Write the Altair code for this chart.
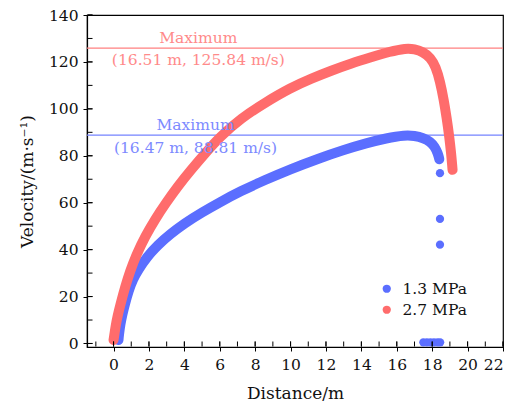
import altair as alt
import pandas as pd

# ---- data ----
series_names = ["1.3 MPa", "2.7 MPa"]
series_colors = ["#5B6EFF", "#FF6C6C"]

blue_x = [0.28, 0.29, 0.31, 0.38, 0.5, 0.65, 0.85, 1.1, 1.4, 1.9, 2.5, 3.2, 4.0, 5.0,
          6.0, 7.2, 8.5, 10.0, 11.5, 13.0, 14.3, 15.4, 16.47, 17.0, 17.5, 17.9,
          18.15, 18.32, 18.39, 18.4]
blue_v = [1.5, 2.5, 4.0, 8.0, 12.5, 17.0, 22.5, 27.5, 31.5, 37.0, 42.0, 46.6, 51.2, 55.9,
          60.2, 65.0, 69.5, 74.3, 78.6, 82.5, 85.4, 87.5, 88.81, 88.5, 87.6, 86.0,
          83.8, 81.0, 79.0, 78.5]

red_x = [0.0, 0.01, 0.05, 0.12, 0.22, 0.4, 0.65, 0.94, 1.3, 1.79, 2.35, 2.96, 3.65, 4.38,
         5.2, 6.0, 7.2, 8.5, 10.0, 11.2, 12.3, 13.4, 14.5, 15.6, 16.51, 17.0, 17.5,
         17.9, 18.2, 18.45, 18.65, 18.82, 18.96, 19.07, 19.14, 19.15]
red_v = [1.5, 2.0, 4.0, 7.5, 11.5, 17.0, 24.0, 31.0, 38.0, 45.7, 53.0, 59.9, 67.2, 74.0,
         81.3, 88.0, 96.0, 102.4, 109.0, 113.0, 116.3, 119.3, 121.9, 124.4, 125.84,
         125.5, 124.2, 121.8, 118.0, 111.5, 104.0, 96.0, 88.5, 81.0, 75.0, 74.0]

# isolated 1.3 MPa samples after the projectile leaves the curve
blue_pts_x = [18.44, 18.44, 18.44, 17.5, 17.7, 17.9, 18.1, 18.3, 18.45]
blue_pts_v = [72.6, 53.1, 42.1, 0.5, 0.5, 0.5, 0.5, 0.5, 0.5]

max_v = [88.81, 125.84]
max_labels = ["(16.47 m, 88.81 m/s)", "(16.51 m, 125.84 m/s)"]

x_major = list(range(0, 23, 2))
x_minor = list(range(-1, 23, 1))
y_major = list(range(0, 141, 20))
y_minor = list(range(0, 141, 10))

FONT = "DejaVu Serif"
W, H = 416, 332

lines_df = pd.DataFrame({
    "x": blue_x + red_x,
    "v": blue_v + red_v,
    "s": [series_names[0]] * len(blue_x) + [series_names[1]] * len(red_x),
    "o": list(range(len(blue_x))) + list(range(len(red_x))),
})
pts_df = pd.DataFrame({"x": blue_pts_x, "v": blue_pts_v, "s": series_names[0]})
max_df = pd.DataFrame({"v": max_v, "s": series_names})

xs = alt.Scale(domain=[-1.5, 22], nice=False, zero=False)
ys = alt.Scale(domain=[-1.5, 140], nice=False, zero=False)
cs = alt.Scale(domain=series_names, range=series_colors)

XA = alt.Axis(orient="bottom", values=x_major, ticks=True, tickSize=4,
              tickColor="#000", tickWidth=1, domain=True, domainColor="#000",
              domainWidth=1.2, grid=False, labelPadding=6, labelFont=FONT,
              labelFontSize=15.5, labelColor="#111", title="Distance/m",
              titleFont=FONT, titleFontSize=17, titleFontWeight="normal",
              titleColor="#111", titlePadding=13)
YA = alt.Axis(orient="left", values=y_major, ticks=True, tickSize=4,
              tickColor="#000", tickWidth=1, domain=True, domainColor="#000",
              domainWidth=1.2, grid=False, labelPadding=5, labelFont=FONT,
              labelFontSize=15.5, labelColor="#111", title="Velocity/(m·s⁻¹)",
              titleFont=FONT, titleFontSize=17, titleFontWeight="normal",
              titleColor="#111", titlePadding=12)

tick_x_df = pd.DataFrame({"t": x_major + x_minor,
                          "len": [5] * len(x_major) + [2.5] * len(x_minor)})
tick_y_df = pd.DataFrame({"t": y_major + y_minor,
                          "len": [5] * len(y_major) + [2.5] * len(y_minor)})

# inward ticks drawn with the axis scales (layered on top of the curves)
xticks = alt.Chart(tick_x_df).mark_rule(color="#000", strokeWidth=1).encode(
    x=alt.X("t:Q", scale=xs, axis=XA),
    y=alt.value(H - 0.5),
    y2=alt.value(H - 5.5),
)
yticks = alt.Chart(tick_y_df).mark_rule(color="#000", strokeWidth=1).encode(
    y=alt.Y("t:Q", scale=ys, axis=YA),
    x=alt.value(0.5),
    x2=alt.value(5.5),
)

lines = alt.Chart(lines_df).mark_line(
    strokeWidth=10, strokeCap="round", strokeJoin="round", interpolate="basis"
).encode(
    x=alt.X("x:Q", scale=xs, axis=XA),
    y=alt.Y("v:Q", scale=ys, axis=YA),
    color=alt.Color("s:N", scale=cs, legend=None),
    order="o:O",
    detail="s:N",
)

points = alt.Chart(pts_df).mark_circle(size=68, opacity=1).encode(
    x=alt.X("x:Q", scale=xs, axis=XA),
    y=alt.Y("v:Q", scale=ys, axis=YA),
    color=alt.Color("s:N", scale=cs, legend=alt.Legend(
        title=None, orient="none", legendX=292, legendY=266, symbolType="circle",
        symbolSize=68, symbolStrokeWidth=0, labelFont=FONT, labelFontSize=15.5,
        labelColor="#111", labelOffset=8, rowPadding=4, padding=0)),
)

rules = alt.Chart(max_df).mark_rule(strokeWidth=1.2).encode(
    y=alt.Y("v:Q", scale=ys, axis=YA),
    color=alt.Color("s:N", scale=alt.Scale(domain=series_names,
                                           range=["#7583FF", "#FF8080"]), legend=None),
)

ann_df = pd.DataFrame({
    "x": [4.63, 4.63, 4.79, 4.79],
    "v": [93.2, 83.4, 130.1, 120.9],
    "t": ["Maximum", max_labels[0], "Maximum", max_labels[1]],
    "s": [series_names[0], series_names[0], series_names[1], series_names[1]],
})
texts = alt.Chart(ann_df).mark_text(font=FONT, fontSize=15.5, baseline="middle",
                                    align="center").encode(
    x=alt.X("x:Q", scale=xs, axis=XA),
    y=alt.Y("v:Q", scale=ys, axis=YA),
    text="t:N",
    color=alt.Color("s:N", scale=alt.Scale(domain=series_names,
                                           range=["#7D8AFF", "#FF8A8A"]), legend=None),
)

chart = alt.layer(
    rules, lines, points, texts, xticks, yticks,
).resolve_scale(color="independent").properties(
    width=W, height=H,
    autosize=alt.AutoSizeParams(type="none"),
    padding={"left": 87, "top": 15, "right": 17, "bottom": 57},
    background="white",
).configure_view(stroke="#000", strokeWidth=1.2)

chart.save("out.html", embed_options={"renderer": "svg", "actions": False})
